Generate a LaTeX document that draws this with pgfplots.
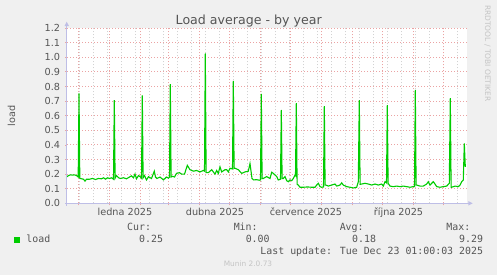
\documentclass[border=0pt]{standalone}
\usepackage{pgfplots}
\pgfplotsset{compat=1.18}
\usepackage{fontspec}
\setmainfont{DejaVu Sans}
\newfontfamily\monofont{DejaVu Sans Mono}
\definecolor{bgcol}{HTML}{F0F0F0}
\definecolor{textgray}{HTML}{555555}
\definecolor{gridred}{HTML}{EBA3A3}
\definecolor{gridgray}{HTML}{D2D2D2}
\definecolor{axisblue}{HTML}{BEBEE6}
\definecolor{loadgreen}{HTML}{00CC00}
\definecolor{lightgray}{HTML}{C4C4C4}
\pgfplotstableread{
x y
1.5 0.182
3 0.19
5 0.195
7 0.193
9 0.195
11 0.19
12.7 0.18
13.5 0.753
14.3 0.17
16 0.168
18 0.165
19.5 0.152
21 0.165
24 0.165
27 0.17
30 0.163
33 0.17
36 0.168
38 0.175
40 0.165
42 0.175
44 0.17
46 0.175
48 0.165
48.8 0.707
49.6 0.172
51 0.19
53 0.175
55 0.17
58 0.175
61 0.168
64 0.18
66 0.188
68 0.175
69.5 0.2
71 0.168
73 0.19
75 0.18
76 0.172
76.8 0.74
77.6 0.175
79 0.19
81 0.16
83 0.182
86 0.17
88.8 0.22
90 0.18
91.5 0.17
94.5 0.18
98 0.16
101 0.18
103 0.172
104 0.18
104.8 0.817
105.6 0.18
107 0.185
109 0.18
111 0.205
114 0.21
116 0.2
119 0.2
121.8 0.26
124.5 0.23
128 0.22
131 0.225
134.5 0.215
137.8 0.225
139 0.22
139.8 1.027
140.6 0.21
142.8 0.21
146.2 0.23
149.5 0.2
151.2 0.225
152.8 0.205
154.5 0.25
156.2 0.215
159.5 0.23
161.2 0.23
162.8 0.215
164.5 0.24
167 0.235
167.8 0.838
168.6 0.24
169.5 0.24
172.8 0.23
176.2 0.205
179.5 0.215
182.8 0.22
184.5 0.272
186.5 0.17
188 0.16
191 0.162
194 0.158
195 0.16
195.8 0.749
196.6 0.17
197.8 0.17
201.2 0.183
204.5 0.17
206.2 0.213
207.8 0.205
209.5 0.194
211.2 0.183
212.8 0.16
215 0.165
215.8 0.639
216.6 0.17
217.8 0.17
219.5 0.183
221.2 0.155
222.8 0.148
224.5 0.16
226.2 0.155
227.8 0.17
229.5 0.194
230 0.19
230.8 0.686
231.6 0.13
232.8 0.125
234.5 0.11
238 0.11
242 0.112
246 0.11
249.5 0.11
251.2 0.125
252.8 0.137
254.5 0.114
256.2 0.11
258 0.112
258.8 0.666
259.6 0.125
260.5 0.125
262.8 0.118
266.2 0.125
269.5 0.132
271.2 0.118
274.5 0.125
276.2 0.14
277.8 0.125
281.2 0.114
284.5 0.11
287.8 0.105
291.2 0.11
292.8 0.148
293.8 0.707
294.6 0.13
296.2 0.132
299.5 0.137
302.8 0.132
306.2 0.125
309.5 0.132
312.8 0.125
316.2 0.132
317.8 0.118
319.5 0.148
321 0.14
321.8 0.673
322.6 0.137
324.5 0.118
327.8 0.114
331.2 0.118
334.5 0.114
337.8 0.118
341.2 0.114
344.5 0.11
347.8 0.114
349 0.115
349.8 0.776
350.6 0.125
351.2 0.125
354.5 0.118
357.8 0.118
361.2 0.132
362.8 0.148
364.5 0.125
366.2 0.137
367.8 0.148
369.5 0.132
371.2 0.114
374.5 0.11
377.8 0.114
381.2 0.118
383.8 0.137
384.8 0.721
385.6 0.11
386.2 0.11
389.5 0.118
392.8 0.114
394.5 0.125
396.2 0.148
397.8 0.16
398.8 0.41
399.8 0.25
}\loaddata
\begin{document}
\begin{tikzpicture}[x=1bp,y=1bp]
\useasboundingbox[fill=bgcol] (0,0) rectangle (497,275);
\begin{scope}[shift={(67bp,71.7bp)}]
\begin{axis}[
  at={(0pt,0pt)}, anchor=south west,
  scale only axis, width=400bp, height=175.2bp,
  xmin=1.5, xmax=401.5, ymin=0, ymax=1.2,
  axis line style={draw=none},
  axis background/.style={fill=white},
  tick pos=left, tick align=outside,
  major tick length=2bp, minor tick length=0pt,
  every tick/.style={color=gridred, line width=0.8bp},
  xtick={12.8,43.8,74.8,102.8,133.8,163.8,194.8,224.8,255.8,286.8,316.8,347.8,377.8},
  xticklabels={,,,,,,,,,,,,},
  minor xtick={13.6,27.6,41.6,55.6,69.6,83.6,97.6,111.6,125.6,139.6,153.6,167.6,181.6,195.6,209.6,223.6,237.6,251.6,265.6,279.6,293.6,307.6,321.6,335.6,349.6,363.6,377.6,391.6},
  ytick={0,0.1,0.2,0.3,0.4,0.5,0.6,0.7,0.8,0.9,1.0,1.1,1.2},
  tick label style={font=\fontsize{9.7bp}{11bp}\selectfont, text=textgray},
  yticklabel style={anchor=east, inner sep=0pt, xshift=-4.7bp},
  xmajorgrids, xminorgrids, ymajorgrids,
  major grid style={gridred, dash pattern=on 1bp off 2bp, line width=0.9bp},
  minor grid style={gridgray, dash pattern=on 1bp off 2bp, line width=0.9bp},
  /pgf/number format/.cd, fixed, fixed zerofill, precision=1, assume math mode=true,
]
\addplot[loadgreen, line width=1.1bp] table[x=x,y=y] {\loaddata};
\end{axis}
\end{scope}
% axis lines with arrows
\draw[axisblue, line width=1bp] (65,71.7) -- (468.5,71.7);
\fill[axisblue] (468.3,73.9) -- (472.7,71.7) -- (468.3,69.5) -- cycle;
\draw[axisblue, line width=1bp] (66.7,69.5) -- (66.7,249.2);
\fill[axisblue] (64.5,249) -- (66.7,253.3) -- (68.9,249) -- cycle;
% x labels (quarters)
\begin{scope}[every node/.style={anchor=base, inner sep=0pt, text=textgray, font=\fontsize{9.7bp}{11bp}\selectfont}]
\node at (125,59.5) {ledna 2025};
\node at (215,59.5) {dubna 2025};
\node at (306,59.5) {července 2025};
\node at (398.5,59.5) {října 2025};
\end{scope}
% texts
\node[anchor=base, text=textgray, font=\fontsize{12.6bp}{14bp}\selectfont, inner sep=0pt] at (248.7,250.7) {Load average - by year};
\node[rotate=90, anchor=base, text=textgray, font=\fontsize{9.7bp}{11bp}\selectfont, inner sep=0pt] at (15,159.3) {load};
\node[rotate=-90, anchor=base, text=lightgray, font=\fontsize{7.5bp}{9bp}\selectfont, inner sep=0pt] at (485,221.7) {RRDTOOL / TOBI OETIKER};
% legend
\node[anchor=south west, inner sep=0pt, fill=loadgreen, minimum size=6bp] at (14,31.7) {};
\begin{scope}[every node/.style={inner sep=0pt, text=textgray, font=\monofont\fontsize{9.9bp}{11bp}\selectfont}]
\node[anchor=base west] at (26.3,32.3) {load};
\node[anchor=base east] at (151.2,44.3) {Cur:};
\node[anchor=base east] at (257.8,44.3) {Min:};
\node[anchor=base east] at (363.8,44.3) {Avg:};
\node[anchor=base east] at (470.5,44.3) {Max:};
\node[anchor=base east] at (163.2,32.3) {0.25};
\node[anchor=base east] at (269.8,32.3) {0.00};
\node[anchor=base east] at (376.2,32.3) {0.18};
\node[anchor=base east] at (483.2,32.3) {9.29};
\node[anchor=base east] at (483.2,20.5) {Last update: Tue Dec 23 01:00:03 2025};
\end{scope}
\node[anchor=base, text=lightgray, font=\fontsize{7.4bp}{9bp}\selectfont, inner sep=0pt] at (248,8.3) {Munin 2.0.73};
\end{tikzpicture}
\end{document}
